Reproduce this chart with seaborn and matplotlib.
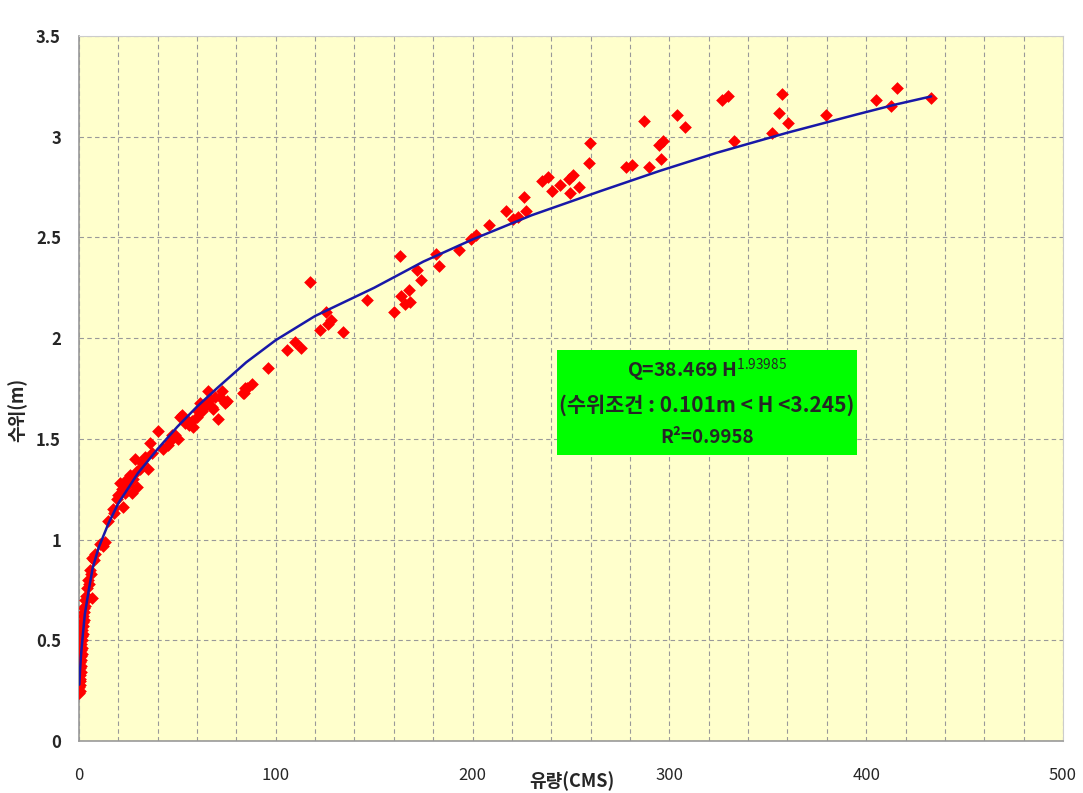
import numpy as np
import pandas as pd
import matplotlib
matplotlib.use('Agg')
import matplotlib.pyplot as plt
import seaborn as sns
from matplotlib.patches import Rectangle
from matplotlib.ticker import MultipleLocator

sns.set_style('white')
plt.rcParams['font.family'] = ['Noto Sans CJK KR', 'DejaVu Sans']
plt.rcParams['mathtext.fontset'] = 'custom'
plt.rcParams['mathtext.rm'] = 'Noto Sans CJK KR'

## observed discharge (CMS) and stage (m)
flow = [0.2, 0.3, 0.2, 0.4, 0.3, 0.6, 0.4, 0.8, 0.5, 1.0, 0.7, 1.2, 0.9, 1.4, 1.0, 1.6,
        1.2, 1.8, 1.4, 2.0, 1.6, 2.2, 1.9, 2.5, 2.2, 2.8, 2.5, 3.2, 3.0, 3.8, 4.5, 6.4,
        4.0, 4.8, 5.2, 5.6, 6.0, 6.4, 8.1, 7.5, 10.7, 12.0, 13.2, 14.9, 17.1, 18.0,
        19.1, 20.0, 20.8, 21.7, 22.5, 23.4, 24.2, 25.0, 25.9, 26.8, 27.5, 28.5, 29.3,
        29.5, 31.0, 32.0, 33.5, 35.2, 36.1, 37.0,
        40.3, 42.8, 45.0, 46.2, 47.1, 49.0, 50.5, 51.3, 52.2, 53.9, 55.5, 56.0, 57.3,
        58.1, 59.8, 60.6, 61.5, 62.3, 63.5, 64.9, 65.7, 66.5, 67.4, 68.2, 69.0, 70.8,
        71.6, 72.5, 74.2, 75.0,
        83.5, 83.8, 84.3, 85.5, 87.7, 96.2, 105.5, 109.8, 112.6, 117.5, 122.5, 125.5,
        126.7, 127.9, 134.0, 146.2, 160.0, 163.1, 163.4, 165.7, 167.5, 168.2, 171.7,
        173.6, 181.4, 182.8, 193.0, 199.2, 201.6, 208.2, 216.8, 220.7, 223.2, 226.0,
        227.0, 235.4, 238.5, 240.3, 244.6, 249.0, 249.5, 251.2, 253.9, 259.0, 259.7,
        278.0, 281.0, 287.0, 289.8, 294.5, 295.7, 297.0, 303.7, 307.7, 326.6, 329.6,
        333.0, 352.0, 355.9, 357.4, 360.4, 379.7, 405.0, 412.6, 415.9, 432.9]
stage = [0.24, 0.25, 0.27, 0.28, 0.30, 0.31, 0.33, 0.34, 0.36, 0.37, 0.39, 0.40, 0.42, 0.43, 0.45, 0.46,
         0.48, 0.50, 0.52, 0.53, 0.55, 0.57, 0.59, 0.60, 0.62, 0.64, 0.66, 0.67, 0.70, 0.72, 0.71, 0.71,
         0.76, 0.80, 0.78, 0.85, 0.83, 0.91, 0.93, 0.90, 0.98, 0.97, 0.99, 1.09, 1.15, 1.13,
         1.20, 1.22, 1.28, 1.25, 1.16, 1.23, 1.30, 1.27, 1.32, 1.23, 1.30, 1.40, 1.26,
         1.34, 1.35, 1.38, 1.41, 1.35, 1.48, 1.43,
         1.54, 1.45, 1.47, 1.49, 1.52, 1.52, 1.50, 1.61, 1.62, 1.58, 1.59, 1.57, 1.59,
         1.56, 1.61, 1.64, 1.68, 1.64, 1.66, 1.68, 1.74, 1.70, 1.66, 1.65, 1.71, 1.60,
         1.71, 1.74, 1.68, 1.69,
         1.73, 1.73, 1.75, 1.75, 1.77, 1.85, 1.94, 1.98, 1.95, 2.28, 2.04, 2.13,
         2.07, 2.09, 2.03, 2.19, 2.13, 2.41, 2.21, 2.17, 2.24, 2.18, 2.34,
         2.29, 2.42, 2.36, 2.44, 2.49, 2.51, 2.56, 2.63, 2.59, 2.60, 2.70,
         2.63, 2.78, 2.80, 2.73, 2.76, 2.79, 2.72, 2.81, 2.75, 2.87, 2.97,
         2.85, 2.86, 3.08, 2.85, 2.96, 2.89, 2.98, 3.11, 3.05, 3.18, 3.20,
         2.98, 3.02, 3.12, 3.21, 3.07, 3.11, 3.18, 3.15, 3.24, 3.19]

## rating curve
curve_q = [0.2, 0.5, 1, 2, 3, 5, 7, 10, 15, 20, 30, 40, 50, 60, 70, 85, 100, 120, 150, 175,
           200, 230, 265, 295, 324, 360, 395, 415, 433]
curve_h = [0.28, 0.34, 0.42, 0.53, 0.63, 0.75, 0.86, 0.96, 1.08, 1.18, 1.33, 1.45, 1.56, 1.66,
           1.75, 1.88, 1.99, 2.11, 2.25, 2.38, 2.49, 2.61, 2.73, 2.83, 2.92, 3.02, 3.11, 3.16, 3.20]

obs = pd.DataFrame({'Q': flow, 'H': stage})
fit = pd.DataFrame({'Q': curve_q, 'H': curve_h})

fig = plt.figure(figsize=(10.83, 7.93), dpi=100)
ax = fig.add_axes([0.0729, 0.0656, 0.9086, 0.889])
ax.set_facecolor('#FFFFCC')

sns.scatterplot(data=obs, x='Q', y='H', ax=ax, marker='D', s=42, color='#FF0000',
                edgecolor='#FF0000', linewidth=0, zorder=3)
sns.lineplot(data=fit, x='Q', y='H', ax=ax, color='#1818A8', lw=1.8, estimator=None, zorder=4)

ax.set_xlim(0, 500)
ax.set_ylim(0, 3.5)
ax.xaxis.set_major_locator(MultipleLocator(100))
ax.xaxis.set_minor_locator(MultipleLocator(20))
ax.set_yticks(np.arange(0, 3.51, 0.5))
ax.set_yticklabels(['0', '0.5', '1', '1.5', '2', '2.5', '3', '3.5'], fontweight='bold')
ax.grid(which='both', axis='x', color='#999999', linestyle=(0, (4, 3)), linewidth=0.8)
ax.grid(which='major', axis='y', color='#999999', linestyle=(0, (4, 3)), linewidth=0.8)

ax.tick_params(axis='x', which='major', length=5, color='#999999', labelsize=12, pad=14)
ax.tick_params(axis='x', which='minor', length=2, color='#bbbbbb')
ax.tick_params(axis='y', length=5, color='#999999', labelsize=12, pad=8)
for side in ['left', 'bottom']:
    ax.spines[side].set_color('#999999')
    ax.spines[side].set_linewidth(1.2)
for side in ['top', 'right']:
    ax.spines[side].set_color('#cccccc')
    ax.spines[side].set_linewidth(0.8)

ax.set_xlabel('유량(CMS)', fontsize=13, fontweight='bold', va='top')
ax.xaxis.set_label_coords(0.501, -0.043)
ax.set_ylabel('수위(m)', fontsize=13, fontweight='bold')
ax.yaxis.set_label_coords(-0.052, 0.47)

# equation box
ax.add_patch(Rectangle((0.4858, 0.4057), 0.3049, 0.1489, transform=ax.transAxes,
                       facecolor='#00FF00', edgecolor='none', zorder=5))
ax.text(0.6382, 0.526, r'Q=38.469 H$^{\mathrm{1.93985}}$', transform=ax.transAxes,
        ha='center', va='center', fontsize=14, fontweight='bold', zorder=6)
ax.text(0.6382, 0.4766, '(수위조건 : 0.101m < H <3.245)', transform=ax.transAxes,
        ha='center', va='center', fontsize=15, fontweight='bold', zorder=6)
ax.text(0.6382, 0.4298, 'R²=0.9958', transform=ax.transAxes,
        ha='center', va='center', fontsize=13.5, fontweight='bold', zorder=6)

fig.savefig('out.png', dpi=100, facecolor='white')
